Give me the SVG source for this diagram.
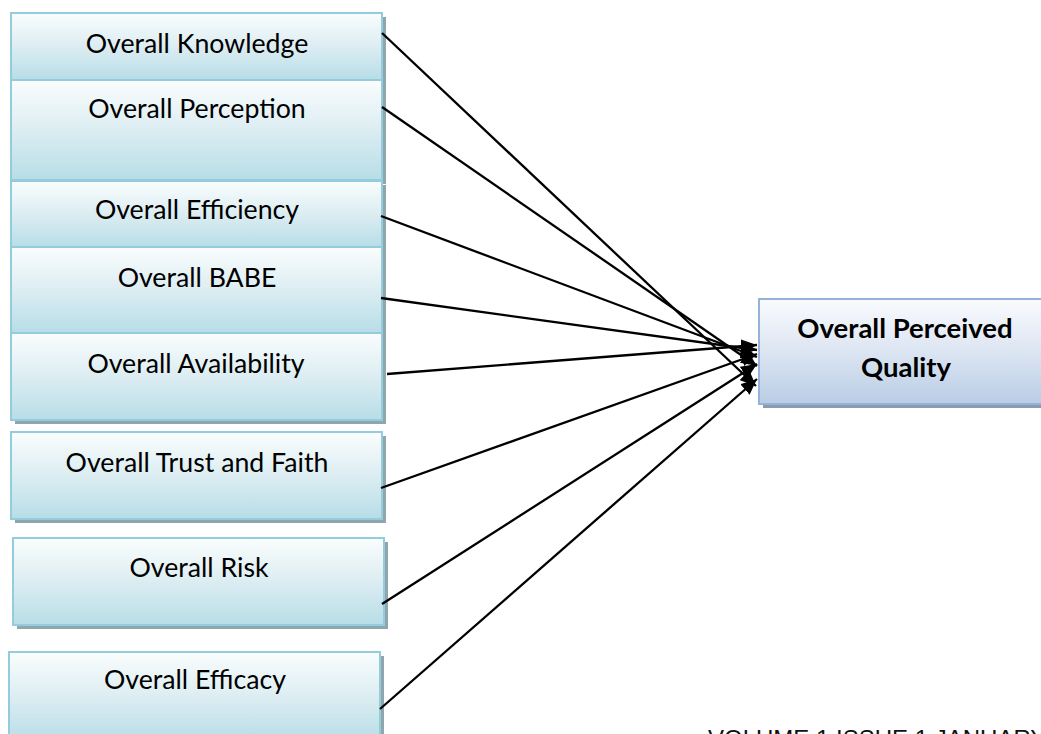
<svg xmlns="http://www.w3.org/2000/svg" width="1041" height="734" viewBox="0 0 1041 734">
<defs>
<linearGradient id="gL" x1="0" y1="0" x2="0" y2="1">
<stop offset="0" stop-color="#fafdfd"/>
<stop offset="0.5" stop-color="#dcedf2"/>
<stop offset="1" stop-color="#b7dde7"/>
</linearGradient>
<linearGradient id="gR" x1="0" y1="0" x2="0" y2="1">
<stop offset="0" stop-color="#fafbfe"/>
<stop offset="0.5" stop-color="#dce5f2"/>
<stop offset="1" stop-color="#b9cde5"/>
</linearGradient>
<marker id="ah" markerUnits="userSpaceOnUse" markerWidth="18" markerHeight="14" refX="16" refY="7" orient="auto">
<path d="M0,0 L16,7 L0,14 Z" fill="#000"/>
</marker>
</defs>
<style>
.sh{fill:#8fa6ad}
.bx{fill:url(#gL);stroke:#93cddd;stroke-width:2}
.shR{fill:#8b9bb0}
.bxR{fill:url(#gR);stroke:#95b3d7;stroke-width:2}
.t{font-family:Lato,"Open Sans",sans-serif;font-size:26.7px;fill:#000;text-anchor:middle}
.tb{font-family:Lato,"Open Sans",sans-serif;font-size:27.5px;font-weight:bold;fill:#000;text-anchor:middle}
.cn line{stroke:#000;stroke-width:2.3;marker-end:url(#ah)}
</style>
<g id="n1"><rect class="sh" x="15" y="17" width="371" height="67"/><rect class="bx" x="11" y="13" width="371" height="67"/><text class="t" x="197" y="53">Overall Knowledge</text></g>
<g id="n2"><rect class="sh" x="15" y="84" width="371" height="100"/><rect class="bx" x="11" y="80" width="371" height="100"/><text class="t" x="197" y="118">Overall Perception</text></g>
<g id="n3"><rect class="sh" x="15" y="185" width="371" height="66"/><rect class="bx" x="11" y="181" width="371" height="66"/><text class="t" x="197" y="219">Overall Efficiency</text></g>
<g id="n4"><rect class="sh" x="15" y="251" width="371" height="86"/><rect class="bx" x="11" y="247" width="371" height="86"/><text class="t" x="197" y="287">Overall BABE</text></g>
<g id="n5"><rect class="sh" x="15" y="337" width="371" height="87"/><rect class="bx" x="11" y="333" width="371" height="87"/><text class="t" x="196" y="373">Overall Availability</text></g>
<g id="n6"><rect class="sh" x="15" y="436" width="371" height="87"/><rect class="bx" x="11" y="432" width="371" height="87"/><text class="t" x="197" y="472">Overall Trust and Faith</text></g>
<g id="n7"><rect class="sh" x="17" y="542" width="371" height="87"/><rect class="bx" x="13" y="538" width="371" height="87"/><text class="t" x="199" y="577">Overall Risk</text></g>
<g id="n8"><rect class="sh" x="13" y="656" width="371" height="90"/><rect class="bx" x="9" y="652" width="371" height="90"/><text class="t" x="195" y="689">Overall Efficacy</text></g>
<g id="target"><rect class="shR" x="763" y="303" width="290" height="105"/><rect class="bxR" x="759" y="299" width="290" height="105"/><text class="tb" x="905" y="338">Overall Perceived</text><text class="tb" x="906" y="377">Quality</text></g>
<g id="connectors" class="cn">
<line x1="382" y1="33" x2="756" y2="386"/>
<line x1="382" y1="107" x2="757" y2="366"/>
<line x1="381" y1="216" x2="757" y2="357"/>
<line x1="381" y1="298" x2="757" y2="350"/>
<line x1="387" y1="374" x2="757" y2="345"/>
<line x1="381" y1="488" x2="757" y2="354"/>
<line x1="382" y1="604" x2="757" y2="364"/>
<line x1="380" y1="709" x2="757" y2="379"/>
</g>
<text x="708" y="747" font-family="Liberation Sans, Arial, sans-serif" font-size="24" fill="#111">VOLUME 1 ISSUE 1 JANUARY</text>
</svg>
